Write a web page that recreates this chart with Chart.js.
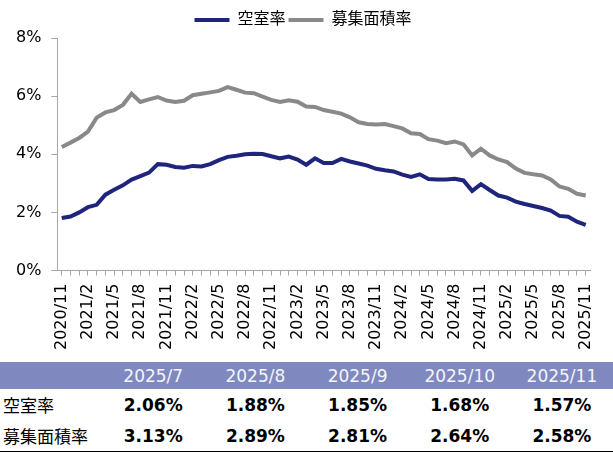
<!DOCTYPE html>
<html>
<head>
<meta charset="utf-8">
<script src="https://cdn.jsdelivr.net/npm/chart.js@4/dist/chart.umd.min.js"></script>
<style>
  body { margin: 0; background: #fff; font-family: "DejaVu Sans", "Noto Sans CJK JP", sans-serif; }
  #wrap { position: relative; width: 613px; height: 452px; }
  #box { position: absolute; left: 0; top: 0; width: 613px; height: 360px; }
  table { position: absolute; left: 0; top: 362px; width: 613px; border-collapse: collapse; table-layout: fixed; }
  th { background: #7f89c0; color: #f4f5fa; font-weight: normal; font-size: 17px; height: 27px; padding: 0; text-align: center; }
  td { font-size: 17px; height: 31px; padding: 0; text-align: center; font-weight: bold; color: #000; }
  td.lbl { text-align: left; font-weight: normal; padding-left: 3px; font-family: "Noto Sans CJK JP", sans-serif; }
  tr.last td { border-bottom: 2px solid #000; }
</style>
</head>
<body>
<div id="wrap">
  <div id="box"><canvas id="chart"></canvas></div>
  <table id="tbl"></table>
</div>
<script>
// 2020/11 .. 2025/11
const months = [];
for (let y = 2020, m = 11; y < 2025 || (y === 2025 && m <= 11); m++) {
    if (m > 12) { m = 1; y++; }
    months.push(y + '/' + m);
}

const vacancy = [
    1.81, 1.86, 2.00, 2.18, 2.26, 2.61, 2.78, 2.93, 3.13, 3.25,
    3.37, 3.66, 3.64, 3.56, 3.54, 3.60, 3.58, 3.66, 3.80, 3.91,
    3.95, 4.00, 4.02, 4.01, 3.93, 3.86, 3.92, 3.82, 3.64, 3.86,
    3.70, 3.70, 3.84, 3.75, 3.68, 3.61, 3.50, 3.45, 3.41, 3.30,
    3.22, 3.31, 3.15, 3.13, 3.13, 3.16, 3.10, 2.74, 2.97, 2.77,
    2.58, 2.51, 2.37, 2.29, 2.22, 2.15, 2.06, 1.88, 1.85, 1.68, 1.57
];
const offerRate = [
    4.25, 4.40, 4.56, 4.78, 5.26, 5.44, 5.52, 5.70, 6.08, 5.80,
    5.89, 5.97, 5.85, 5.80, 5.84, 6.03, 6.08, 6.13, 6.18, 6.31,
    6.22, 6.12, 6.10, 5.98, 5.87, 5.80, 5.86, 5.81, 5.64, 5.63,
    5.52, 5.46, 5.40, 5.27, 5.10, 5.04, 5.02, 5.04, 4.97, 4.89,
    4.72, 4.70, 4.52, 4.47, 4.38, 4.44, 4.34, 3.96, 4.19, 3.96,
    3.82, 3.73, 3.51, 3.36, 3.31, 3.27, 3.13, 2.89, 2.81, 2.64, 2.58
];

const tableMonths = ['2025/7', '2025/8', '2025/9', '2025/10', '2025/11'];
const tableVacancy = ['2.06%', '1.88%', '1.85%', '1.68%', '1.57%'];
const tableOffer = ['3.13%', '2.89%', '2.81%', '2.64%', '2.58%'];

const navy = '#1f257d';
const grey = '#898989';
const font = "'DejaVu Sans', 'Noto Sans CJK JP', sans-serif";

new Chart(document.getElementById('chart'), {
    type: 'line',
    data: {
        labels: months,
        datasets: [
            { label: '空室率', data: vacancy, borderColor: navy, backgroundColor: navy, borderWidth: 4, pointRadius: 0, tension: 0 },
            { label: '募集面積率', data: offerRate, borderColor: grey, backgroundColor: grey, borderWidth: 4, pointRadius: 0, tension: 0 }
        ]
    },
    options: {
        responsive: true,
        maintainAspectRatio: false,
        animation: false,
        layout: { padding: { left: 6, right: 13, top: 9, bottom: 2 } },
        plugins: {
            legend: {
                position: 'top',
                labels: {
                    usePointStyle: true,
                    pointStyle: 'line',
                    pointStyleWidth: 35,
                    color: '#000',
                    font: { family: font, size: 16 },
                    padding: 3
                }
            },
            tooltip: { enabled: false }
        },
        scales: {
            x: {
                offset: true,
                grid: { drawOnChartArea: false, drawTicks: true, tickLength: 5, color: '#a6a6a6' },
                border: { color: '#a6a6a6', width: 1 },
                ticks: {
                    autoSkip: false,
                    maxRotation: 90,
                    minRotation: 90,
                    color: '#000',
                    font: { family: font, size: 16 },
                    padding: 8,
                    callback: function (v, i) { return i % 3 === 0 ? months[i] : ''; }
                }
            },
            y: {
                min: 0,
                max: 8,
                grid: { drawOnChartArea: false, drawTicks: true, tickLength: 6, color: '#a6a6a6' },
                border: { color: '#a6a6a6', width: 1 },
                ticks: {
                    stepSize: 2,
                    color: '#000',
                    font: { family: font, size: 16 },
                    padding: 10,
                    callback: v => v + '%'
                }
            }
        }
    }
});

const tbl = document.getElementById('tbl');
let html = '<tr><th></th>' + tableMonths.map(m => '<th>' + m + '</th>').join('') + '</tr>';
html += '<tr><td class="lbl">空室率</td>' + tableVacancy.map(v => '<td>' + v + '</td>').join('') + '</tr>';
html += '<tr class="last"><td class="lbl">募集面積率</td>' + tableOffer.map(v => '<td>' + v + '</td>').join('') + '</tr>';
tbl.innerHTML = html;
</script>
</body>
</html>
